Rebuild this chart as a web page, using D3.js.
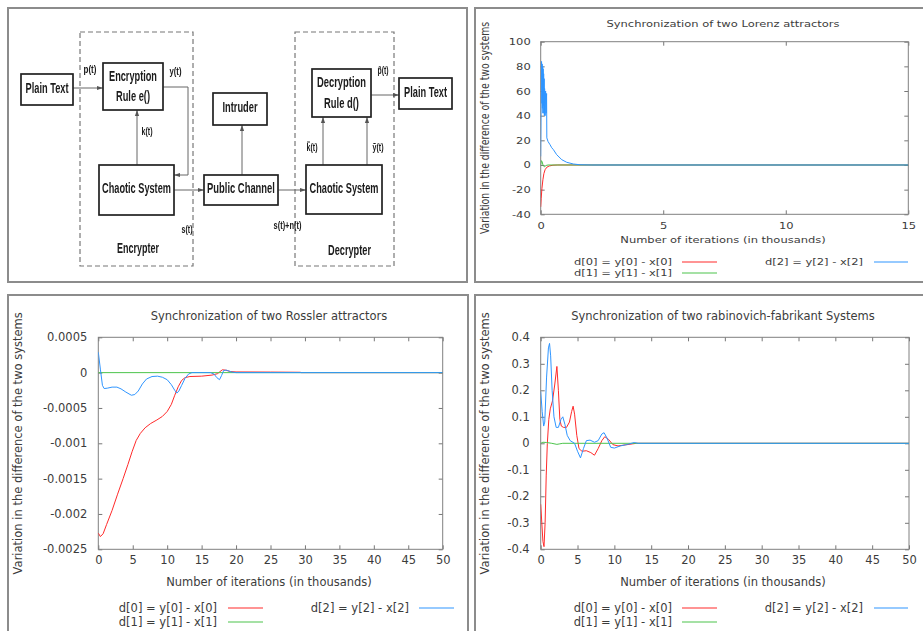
<!DOCTYPE html>
<html>
<head>
<meta charset="utf-8">
<script src="https://cdn.jsdelivr.net/npm/d3@7"></script>
<style>
body { margin: 0; background: #fff; }
svg text { font-family: "DejaVu Sans", sans-serif; }
</style>
</head>
<body>
<svg id="fig" width="923" height="631"></svg>
<script>
// ---- data ----
var legendNames = ["d[0] = y[0] - x[0]", "d[1] = y[1] - x[1]", "d[2] = y[2] - x[2]"];
var xTitle = "Number of iterations (in thousands)";
var yTitle = "Variation in the difference of the two systems";

// Lorenz
var lorenzXTicks = [0, 5, 10, 15];
var lorenzYTicks = [-40, -20, 0, 20, 40, 60, 80, 100];
var lorenzD0 = [[0, -34], [0.02, -27], [0.05, -19], [0.09, -12], [0.13, -7], [0.18, -3.8], [0.25, -1.8], [0.35, -0.8], [0.5, -0.2], [0.7, 0], [15, 0]];
var lorenzD1 = [[0, 0], [0.03, 3.5], [0.06, 2.5], [0.1, -0.5], [0.15, -1.5], [0.22, -0.4], [0.3, 0], [15, 0]];
var lorenzD2 = [[0, 7], [0.02, 62], [0.035, 84], [0.05, 50], [0.06, 82], [0.07, 46], [0.08, 80], [0.09, 42], [0.1, 78],
  [0.11, 48], [0.12, 74], [0.13, 42], [0.14, 70], [0.15, 40], [0.16, 62], [0.18, 40], [0.2, 60], [0.22, 42], [0.24, 58],
  [0.25, 22], [0.3, 19], [0.38, 16.5], [0.45, 14], [0.52, 12.4], [0.65, 8.4], [0.86, 4.3], [1.06, 2.2], [1.33, 0.8],
  [1.6, 0.2], [2.08, 0], [15, 0]];

// Rossler
var rosslerXTicks = [0, 5, 10, 15, 20, 25, 30, 35, 40, 45, 50];
var rosslerYTicks = [-0.0025, -0.002, -0.0015, -0.001, -0.0005, 0, 0.0005];
var rosslerD0 = [[0, -2.27e-3], [0.3, -2.32e-3], [0.7, -2.28e-3], [1.2, -2.15e-3], [2, -1.95e-3], [2.8, -1.72e-3],
  [3.6, -1.5e-3], [4.3, -1.3e-3], [4.9, -1.12e-3], [5.5, -0.96e-3], [6.1, -0.86e-3], [6.8, -0.78e-3], [7.6, -0.72e-3],
  [8.5, -0.67e-3], [9.3, -0.62e-3], [10, -0.55e-3], [10.6, -0.45e-3], [11.1, -0.32e-3], [11.6, -0.2e-3],
  [12.1, -0.11e-3], [12.6, -0.07e-3], [13.3, -0.055e-3], [15, -0.05e-3], [16.5, -0.035e-3], [17.3, -0.015e-3],
  [18, 0.04e-3], [18.5, 0.035e-3], [19.2, 0.015e-3], [20, 0.01e-3], [25, 0.008e-3], [29.3, 0.005e-3], [29.5, 0], [50, 0]];
var rosslerD1 = [[0, 0], [50, 0]];
var rosslerD2 = [[0, 2.9e-4], [0.3, 0.5e-4], [0.6, -1.8e-4], [0.85, -2.25e-4], [1.3, -2.2e-4], [2, -2.05e-4],
  [2.7, -2.05e-4], [3.3, -2.3e-4], [4, -2.75e-4], [4.8, -3.2e-4], [5.3, -3.1e-4], [5.8, -2.6e-4], [6.4, -1.6e-4],
  [7, -0.9e-4], [7.8, -0.55e-4], [8.6, -0.5e-4], [9.3, -0.65e-4], [10, -1.0e-4], [10.6, -1.7e-4], [11.1, -2.5e-4],
  [11.4, -2.9e-4], [11.7, -2.6e-4], [12.1, -1.8e-4], [12.6, -0.8e-4], [13.1, -0.2e-4], [13.6, 0], [16.3, 0],
  [16.8, -0.2e-4], [17.2, -0.7e-4], [17.6, -1.0e-4], [17.9, -0.4e-4], [18.2, 0.3e-4], [18.6, 0.35e-4],
  [19.3, 0.1e-4], [20, 0], [50, 0]];

// Rabinovich-Fabrikant
var rabXTicks = [0, 5, 10, 15, 20, 25, 30, 35, 40, 45, 50];
var rabYTicks = [-0.4, -0.3, -0.2, -0.1, 0, 0.1, 0.2, 0.3, 0.4];
var rabD0 = [[0, -0.23], [0.15, -0.3], [0.3, -0.37], [0.45, -0.39], [0.6, -0.3], [0.75, -0.12], [0.9, 0], [1.1, 0.09],
  [1.3, 0.13], [1.6, 0.16], [1.9, 0.22], [2.2, 0.29], [2.4, 0.2], [2.6, 0.09], [2.8, 0.065], [3.1, 0.06], [3.5, 0.06],
  [3.9, 0.08], [4.2, 0.12], [4.4, 0.14], [4.6, 0.11], [4.9, 0.03], [5.2, -0.02], [5.6, -0.03], [6.2, -0.028],
  [6.8, -0.035], [7.3, -0.045], [7.8, -0.02], [8.3, 0.01], [8.7, 0.025], [9.2, 0.015], [9.8, -0.005], [10.5, -0.01],
  [11.5, -0.006], [12.5, -0.002], [13, 0], [50, 0]];
var rabD1 = [[0, 0], [0.3, 0.004], [0.8, 0.003], [1.5, 0], [2.2, -0.004], [2.6, -0.002], [3, 0], [50, 0]];
var rabD2 = [[0, 0.195], [0.2, 0.12], [0.4, 0.065], [0.55, 0.08], [0.8, 0.25], [1.05, 0.36], [1.2, 0.377], [1.35, 0.33],
  [1.55, 0.2], [1.8, 0.1], [2.1, 0.06], [2.4, 0.06], [2.75, 0.09], [3.0, 0.1], [3.3, 0.07], [3.6, 0.03], [4.0, 0.01],
  [4.6, 0.0], [5.0, -0.03], [5.4, -0.055], [5.8, -0.02], [6.2, 0.01], [6.7, 0.012], [7.3, 0.004], [7.8, 0.01],
  [8.3, 0.035], [8.6, 0.04], [9, 0.02], [9.5, -0.015], [10, -0.018], [10.8, -0.01], [11.8, -0.004], [12.7, 0.003],
  [13.2, 0], [50, 0]];

// Block diagram labels
var boxNames = ["ptL", "enc", "intr", "dec", "ptR", "csL", "pub", "csR"];
var boxText = {
  ptL: ["Plain Text"], enc: ["Encryption", "Rule e()"], intr: ["Intruder"], dec: ["Decryption", "Rule d()"],
  ptR: ["Plain Text"], csL: ["Chaotic System"], pub: ["Public Channel"], csR: ["Chaotic System"]
};
var signalNames = ["p(t)", "y(t)", "k(t)", "s(t)", "s(t)+n(t)", "k\u0303(t)", "y\u0303(t)", "p\u0303(t)"];
var groupNames = ["Encrypter", "Decrypter"];

var colors = ["#ff2a2a", "#4cc44c", "#2f95ff"];
var textCol = "#3c3c3c";

var svg = d3.select("#fig");

// ---- panel frames ----
var panels = [[8, 8, 467, 282], [475, 8, 935, 282], [8, 295, 468, 640], [475, 295, 935, 640]];
svg.selectAll("rect.panel")
  .data(panels)
  .enter().append("rect")
  .attr("class", "panel")
  .attr("x", function(d) { return d[0]; })
  .attr("y", function(d) { return d[1]; })
  .attr("width", function(d) { return d[2] - d[0]; })
  .attr("height", function(d) { return d[3] - d[1]; })
  .attr("fill", "none")
  .attr("stroke", "#8c8c8c")
  .attr("stroke-width", 2);

// text helper, sy squashes text vertically (the Lorenz plot was shrunk)
function label(g, x, y, str, anchor, sy, size, rot) {
  var tr = "translate(" + x + "," + y + ")" + (rot ? " rotate(-90) scale(" + sy + ",1)" : " scale(1," + sy + ")");
  return g.append("text")
    .attr("transform", tr)
    .attr("text-anchor", anchor)
    .attr("dy", "0.35em")
    .attr("fill", textCol)
    .style("font-size", size + "px")
    .text(str);
}

function fmt(d) { return String(+d.toFixed(4)); }

function drawChart(c) {
  var g = svg.append("g");
  var sy = c.sy;
  var x = d3.scaleLinear().domain(c.xDomain).range([c.left, c.right]);
  var y = d3.scaleLinear().domain(c.yDomain).range([c.bottom, c.top]);
  var fs = c.fontSize;

  var gb = g.append("g").attr("transform", "translate(0," + c.bottom + ")")
    .call(d3.axisBottom(x).tickValues(c.xTicks).tickSize(-4).tickPadding(c.xPad).tickFormat(fmt));
  gb.selectAll("text").attr("y", c.xPad / sy).attr("transform", "scale(1," + sy + ")");
  g.append("g").attr("transform", "translate(0," + c.top + ")")
    .call(d3.axisTop(x).tickValues(c.xTicks).tickSize(-4).tickFormat(""));
  var gl = g.append("g").attr("transform", "translate(" + c.left + ",0)")
    .call(d3.axisLeft(y).tickValues(c.yTicks).tickSize(-4).tickPadding(c.yPad).tickFormat(fmt));
  gl.selectAll("text").attr("transform", "scale(1," + sy + ")").attr("y", 0);
  g.append("g").attr("transform", "translate(" + c.right + ",0)")
    .call(d3.axisRight(y).tickValues(c.yTicks).tickSize(-4).tickFormat(""));

  g.selectAll(".domain").remove();
  g.selectAll(".tick line").attr("stroke", "#777");
  g.selectAll(".tick text").attr("fill", textCol).style("font-size", fs + "px")
    .style("font-family", "DejaVu Sans, sans-serif");
  gl.selectAll(".tick text").attr("dy", "0.32em");

  g.append("rect")
    .attr("x", c.left).attr("y", c.top)
    .attr("width", c.right - c.left).attr("height", c.bottom - c.top)
    .attr("fill", "none").attr("stroke", "#808080").attr("stroke-width", 1);

  var clipId = "clip" + c.id;
  g.append("clipPath").attr("id", clipId).append("rect")
    .attr("x", c.left).attr("y", c.top - 2)
    .attr("width", c.right - c.left).attr("height", c.bottom - c.top + 4);

  var line = d3.line().x(function(d) { return x(d[0]); }).y(function(d) { return y(d[1]); });
  c.series.forEach(function(s, i) {
    g.append("path")
      .datum(s)
      .attr("d", line)
      .attr("fill", "none")
      .attr("stroke", colors[i])
      .attr("stroke-width", 1)
      .attr("clip-path", "url(#" + clipId + ")");
  });

  label(g, c.titleX, c.titleY, c.title, "middle", sy, fs);
  label(g, c.titleX, c.xLabelY, xTitle, "middle", sy, fs);
  label(g, c.yLabelX, (c.top + c.bottom) / 2, yTitle, "middle", sy, fs, true);

  // key: two columns, text right aligned then a sample line
  var keySlots = [[0, 0], [0, 1], [1, 0]];
  legendNames.forEach(function(name, i) {
    var col = c.key.cols[keySlots[i][0]];
    var ry = c.key.rows[keySlots[i][1]];
    label(g, col[0], ry, name, "end", sy, fs);
    g.append("line")
      .attr("x1", col[1]).attr("x2", col[2])
      .attr("y1", ry).attr("y2", ry)
      .attr("stroke", colors[i]).attr("stroke-width", 1.2);
  });
}

drawChart({
  id: "lor", title: "Synchronization of two Lorenz attractors", sy: 0.81, fontSize: 11.5,
  xDomain: [0, 15], yDomain: [-40, 100], xTicks: lorenzXTicks, yTicks: lorenzYTicks,
  left: 540.7, right: 908.3, top: 41.7, bottom: 214.3, xPad: 8, yPad: 10,
  titleX: 723, titleY: 24, xLabelY: 240, yLabelX: 485,
  key: { cols: [[672, 682, 717], [863, 874, 908]], rows: [262, 273] },
  series: [lorenzD0, lorenzD1, lorenzD2]
});

drawChart({
  id: "ros", title: "Synchronization of two Rossler attractors", sy: 1, fontSize: 11.5,
  xDomain: [0, 50], yDomain: [-0.0025, 0.0005], xTicks: rosslerXTicks, yTicks: rosslerYTicks,
  left: 98.3, right: 442.7, top: 337.3, bottom: 549.3, xPad: 7, yPad: 11,
  titleX: 269, titleY: 316, xLabelY: 582, yLabelX: 18,
  key: { cols: [[217, 228, 263], [409, 419, 454]], rows: [608, 622] },
  series: [rosslerD0, rosslerD1, rosslerD2]
});

drawChart({
  id: "rab", title: "Synchronization of two rabinovich-fabrikant Systems", sy: 1, fontSize: 11.5,
  xDomain: [0, 50], yDomain: [-0.4, 0.4], xTicks: rabXTicks, yTicks: rabYTicks,
  left: 540.7, right: 909, top: 337.3, bottom: 549.3, xPad: 7, yPad: 11,
  titleX: 723, titleY: 316, xLabelY: 582, yLabelX: 485,
  key: { cols: [[672, 682, 717], [863, 874, 908]], rows: [608, 622] },
  series: [rabD0, rabD1, rabD2]
});

// ---- block diagram (top left) ----
var boxPos = {
  ptL: [21, 74, 73, 105], enc: [103, 63, 163, 110], intr: [213, 93, 267, 125], dec: [312, 69, 371, 117],
  ptR: [399, 78, 452, 109], csL: [99, 165, 174, 215], pub: [204, 175, 278, 205], csR: [306, 165, 382, 214]
};
var textWidth = {
  "Plain Text": 43, "Encryption": 48, "Rule e()": 34, "Intruder": 35, "Decryption": 49, "Rule d()": 35,
  "Chaotic System": 69, "Public Channel": 68, "Encrypter": 42, "Decrypter": 43,
  "p(t)": 13, "y(t)": 12, "k(t)": 11, "s(t)": 11, "s(t)+n(t)": 28, "k\u0303(t)": 11, "y\u0303(t)": 11, "p\u0303(t)": 11
};
var signalPos = [[90, 69], [175.5, 71], [147, 131], [187, 229], [287.5, 225], [312, 147], [378, 147], [383, 70]];
var groupPos = [[[80, 32, 193, 266], [138, 248]], [[295, 32, 394, 266], [349.5, 250]]];
var arrows = [
  [[73, 88], [103, 88]],
  [[163, 87], [188, 87], [188, 175], [174, 175]],
  [[137, 165], [137, 110]],
  [[174, 190], [204, 190]],
  [[242, 175], [242, 125]],
  [[278, 190], [306, 190]],
  [[323, 165], [323, 117]],
  [[367, 165], [367, 117]],
  [[371, 95], [399, 95]]
];

var defs = svg.append("defs");
defs.append("filter").attr("id", "soft").append("feGaussianBlur").attr("stdDeviation", 0.5);
defs.append("marker").attr("id", "head")
  .attr("viewBox", "0 0 10 10").attr("refX", 10).attr("refY", 5)
  .attr("markerWidth", 6).attr("markerHeight", 6).attr("orient", "auto")
  .append("path").attr("d", "M0,1.5 L10,5 L0,8.5 Z").attr("fill", "#555");

var dg = svg.append("g").attr("filter", "url(#soft)");

// narrow bold text: squeeze horizontally to the width measured in the scan
function btext(x, y, str, size) {
  var t = dg.append("text")
    .attr("text-anchor", "middle")
    .attr("dy", "0.35em")
    .attr("fill", "#1a1a1a")
    .style("font-family", "Liberation Sans, Arial, sans-serif")
    .style("font-weight", "bold")
    .style("font-size", size + "px")
    .text(str);
  var w = t.node().getComputedTextLength() || textWidth[str];
  var sx = textWidth[str] / w;
  t.attr("transform", "translate(" + x + "," + y + ") scale(" + sx + ",1)");
}

groupPos.forEach(function(gp, i) {
  var r = gp[0];
  dg.append("rect")
    .attr("x", r[0]).attr("y", r[1]).attr("width", r[2] - r[0]).attr("height", r[3] - r[1])
    .attr("fill", "none").attr("stroke", "#777").attr("stroke-width", 1.2).attr("stroke-dasharray", "5,3");
  btext(gp[1][0], gp[1][1], groupNames[i], 14);
});

arrows.forEach(function(a) {
  dg.append("path")
    .attr("d", d3.line()(a))
    .attr("fill", "none").attr("stroke", "#666").attr("stroke-width", 1)
    .attr("marker-end", "url(#head)");
});

boxNames.forEach(function(k) {
  var b = boxPos[k];
  dg.append("rect")
    .attr("x", b[0]).attr("y", b[1]).attr("width", b[2] - b[0]).attr("height", b[3] - b[1])
    .attr("fill", "#fff").attr("stroke", "#222").attr("stroke-width", 1.7);
  var cx = (b[0] + b[2]) / 2, cy = (b[1] + b[3]) / 2;
  var lines = boxText[k];
  if (lines.length === 1) {
    btext(cx, cy - 1.5, lines[0], 14);
  } else {
    btext(cx, cy - 10.5, lines[0], 14);
    btext(cx, cy + 10, lines[1], 14);
  }
});

signalNames.forEach(function(s, i) {
  btext(signalPos[i][0], signalPos[i][1], s, 11);
});
</script>
</body>
</html>
